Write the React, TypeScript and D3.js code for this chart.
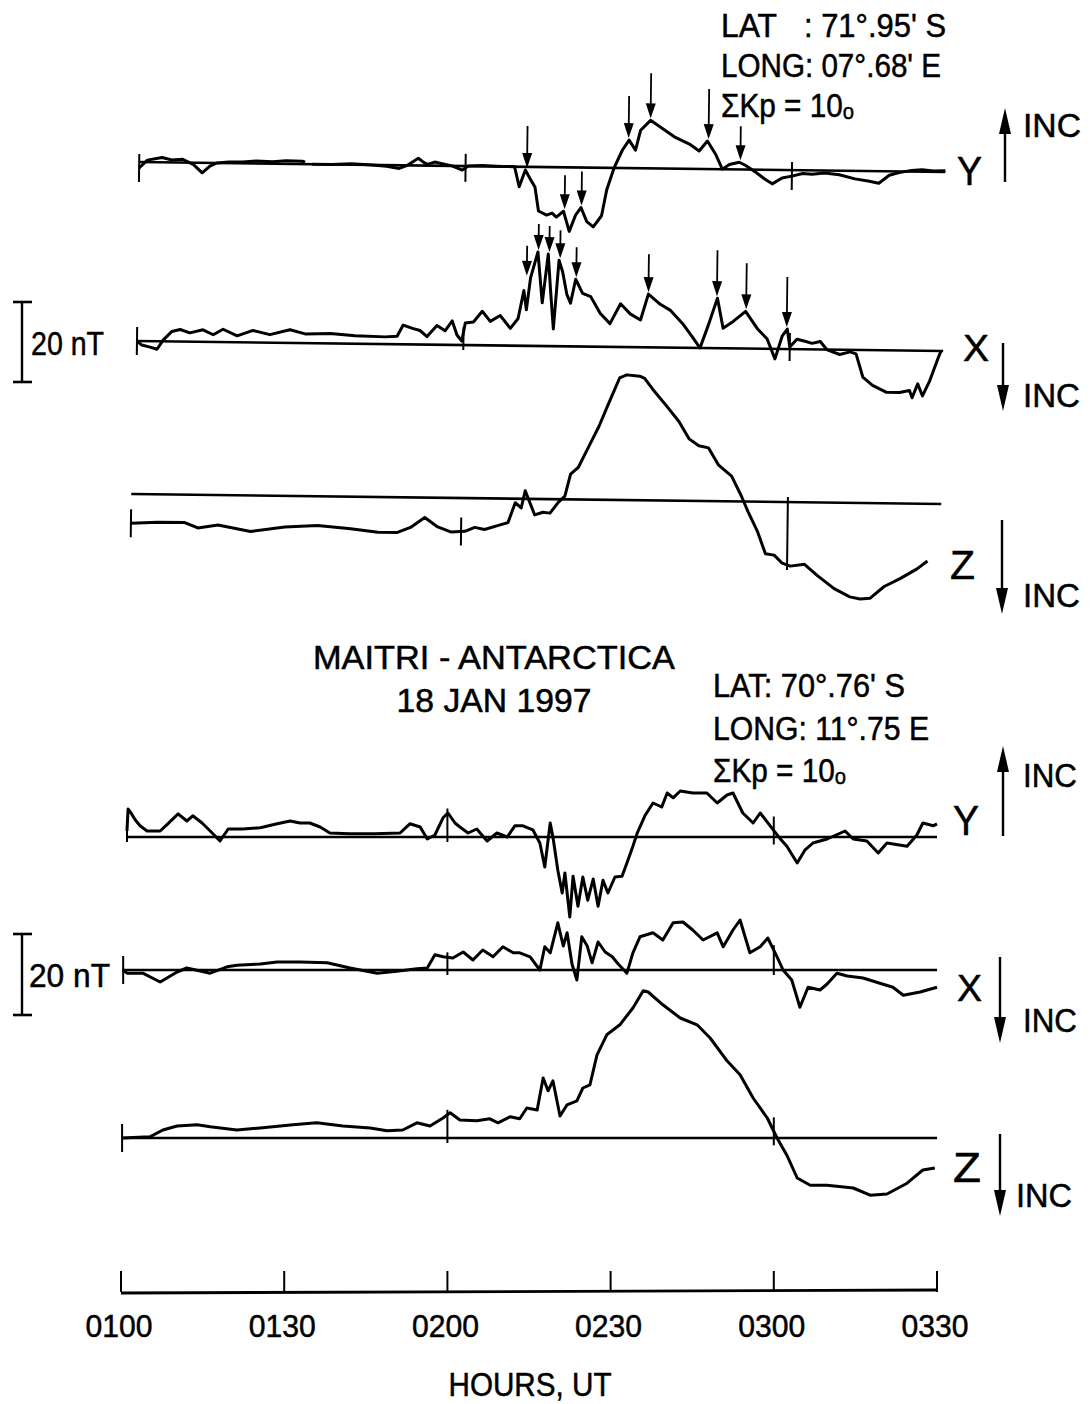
import React from "react";
import * as d3 from "d3";

// time in minutes after 0100 UT ; value = deflection in nT (positive = upward on the chart)
type Pt = [number, number | null];

// ---------- Upper station (LAT 71.95 S) ----------
const topY: Pt[] = [
  [0, -1.5], [1.5, 0.5], [4.2, 1.2], [6, 0.6], [8, 0.8], [10, -0.5], [11.6, -2.5], [13, -0.8], [14.3, 0],
  [16.5, 0.3], [19, 0.3], [21.5, 0.6], [24.5, 0.5], [27, 0.8], [30, 0.7], [30.5, 0.5], [31.1, null],
  [31.8, 0], [35.5, 0], [39, 0.2], [42.8, 0], [45.5, -0.3], [47.8, -0.8], [49.3, 0], [51.3, 1.8],
  [52.3, 0.8], [53, 0.3], [54.3, 0.9], [55.7, 0.5], [57.5, 0], [59.4, -1], [60.5, 0], [63, 0.2],
  [66.7, 0], [69, 0], [69.9, -5], [71, -0.8], [71.9, -3], [72.8, -5], [73.5, -11], [75, -12],
  [76, -11.5], [76.8, -12.5], [78.1, -11], [79.2, -16], [80.3, -12], [81.3, -10], [82.4, -13.5],
  [83.6, -14.8], [85.1, -12], [86, -5.5], [87.3, 0], [88.8, 4.5], [90, 7], [91.2, 4.5], [92.1, 9.5],
  [93.9, 12], [96.1, 10], [98.5, 7.8], [101.1, 6.2], [102.9, 4.5], [104.4, 7], [105.9, 3.8],
  [107.2, 0], [108.5, 1.2], [110.3, 1.8], [111.5, 1], [113.2, -0.5], [115, -2.3], [116.4, -3.5],
  [118.2, -2], [120, -1.5], [122, -0.8], [123.7, -1], [126, -0.6], [128.7, -1], [131.6, -2],
  [134, -2.5], [136, -3], [137.9, -1], [139.7, -0.3], [142, 0.3], [143.9, 0.5], [146, 0.2], [148.2, 0.3],
];

const topX: Pt[] = [
  [0, 0], [0.9, -1], [2.4, -1.5], [3.7, -2], [4.8, 0.3], [6.4, 2.5], [7.9, 3], [9.7, 2.2], [12.1, 3],
  [14, 1.8], [15.8, 3.2], [18.4, 1.6], [21.3, 3], [24.4, 2], [28.1, 3.3], [30.9, 2.3], [35.5, 2.5],
  [40.1, 2], [45.6, 1.8], [47.8, 2], [48.9, 4.8], [50.6, 4], [52, 3.5], [53.3, 2], [55.1, 4.8],
  [56.6, 3.5], [57.9, 6], [58.8, 2.5], [59.7, 1], [60.3, 5.5], [61.8, 5.8], [63.4, 8.5], [64.9, 6],
  [66.7, 7.5], [68.6, 4.3], [70, 6.8], [71, 13.8], [71.5, 9], [72.2, 17], [73.5, 23.5], [74.4, 10.8],
  [75.4, 23], [75.9, 14], [76.5, 4.3], [77.4, 21.5], [78.1, 18.5], [78.9, 13], [79.6, 10.8],
  [80.5, 16.8], [81.8, 13.3], [83.3, 12.5], [85.1, 8.3], [86.9, 5.8], [88.8, 10.8], [90.6, 8.3],
  [92.5, 6.8], [93.9, 13.3], [96.1, 10.8], [98, 9.3], [100.4, 5.8], [102.2, 2.5], [103.5, 0],
  [105, 5.8], [106.6, 12.5], [107.7, 5], [109.6, 6.8], [111.8, 9.3], [114, 5], [115.8, 2.5],
  [117.3, -2.5], [118.6, 3.3], [119.5, 5], [120, 0.5], [121.3, 2.5], [122.8, 2], [124.1, 1.5],
  [125.6, 2], [126.8, 0], [129.2, -1.2], [131.1, -0.5], [132.2, -1], [133.5, -6.8], [135.3, -8.8],
  [137.9, -10.5], [140.3, -10.5], [142.1, -10], [142.6, -11.8], [143.6, -8.3], [144.5, -11.3],
  [145.8, -7.5], [147.1, -2.5], [147.8, 0],
];

const topZ: Pt[] = [
  [-0.7, -7.3], [4.2, -7], [9.2, -7], [11.6, -8.3], [15.3, -7.5], [21.3, -9], [27.6, -7.8], [33.6, -7.3],
  [39.7, -8], [44.7, -8.8], [48.3, -8.8], [50.7, -7.5], [53.3, -5], [55.7, -7.3], [58.1, -8.5],
  [60.7, -8.3], [62.5, -7.3], [64.3, -7.8], [66.7, -6.8], [68.6, -6], [69.9, -1], [71, -2.3],
  [71.7, 2], [72.6, -1], [73.5, -4], [75, -3.3], [76.3, -3.5], [77.8, -0.8], [79, 0.8], [80, 6.3],
  [81.4, 8], [83.3, 13.3], [85.1, 18.3], [86.9, 24.3], [88.8, 30.5], [90.1, 31.3], [92.5, 31],
  [93.4, 30.5], [94.9, 27.8], [97.4, 23.8], [99.8, 19.8], [101.7, 15.5], [103.5, 13.8], [105.3, 13.3],
  [107.2, 9], [109.6, 6.3], [111.4, 1.5], [112.7, -2.5], [114.5, -7.5], [116, -13], [117.6, -13.3],
  [119.1, -15.3], [120.6, -16], [123.2, -15.5], [125.6, -18.3], [128.7, -21.5], [131.6, -23.5],
  [133.5, -24], [135.3, -23.8], [137.9, -20.8], [140.8, -18.8], [143.9, -16.3], [145.8, -14.3],
];

// arrow markers: [time, shaft length]
const topYArrows: [number, number][] = [
  [71.3, 42], [78.3, 34], [81.4, 34], [89.9, 42], [93.9, 45], [104.6, 50], [110.5, 34],
];
const topXArrows: [number, number][] = [
  [71.5, 30], [73.6, 26], [75.6, 26], [77.6, 28], [80.6, 30], [93.9, 38], [106.5, 46], [111.9, 46], [119.4, 50],
];

// ---------- Lower station (LAT 70.76 S) ----------
const botY: Pt[] = [
  [1.1, 1.5], [1.3, 7], [1.7, 6.3], [2.6, 4.3], [3.5, 2.8], [4.8, 1.5], [7.2, 1.5], [8.6, 3.3],
  [10.5, 5.8], [12.1, 4], [13.2, 5.3], [14.9, 3.5], [16.4, 1.5], [18.2, -1], [19.7, 2], [22.4, 2],
  [25.6, 2.3], [28.7, 3.3], [31.1, 4], [32.9, 3.5], [34.7, 3.5], [36.6, 2.5], [38.4, 1], [42.1, 0.8],
  [46.7, 0.8], [51.3, 1], [53.1, 3.3], [55, 2.5], [56.3, -0.5], [57.7, 0.5], [59.2, 4.8], [60.1, 6],
  [61.4, 3.5], [62.3, 2.5], [63.8, 1], [65.4, 2], [67.3, -1], [69.1, 1], [71, 0], [72.4, 2.8],
  [73.9, 2.8], [75.7, 1.8], [77, -1.5], [77.9, -7.5], [78.9, 3.5], [79.4, 0], [80.3, -8.3],
  [81.1, -14], [81.6, -9], [82.5, -20], [83.1, -9.8], [84, -17.3], [84.9, -10], [85.8, -15.8],
  [86.8, -10.5], [87.7, -17.3], [88.6, -10.8], [89.5, -14], [90.8, -10], [92.1, -9.8], [93, -6.5],
  [94.1, -2.3], [94.9, 1], [96.3, 5.3], [97.8, 8.5], [99.4, 7.5], [100.4, 11], [101.5, 9.8],
  [102.8, 11.5], [105.1, 11], [107.7, 11], [109.6, 8.5], [111.4, 10.5], [112.5, 11], [114.3, 6],
  [116.2, 3.5], [117.5, 6], [119.9, 1.8], [121.1, -0.3], [122.4, -2.3], [124.3, -6.5], [125.7, -3.3],
  [127.2, -1.5], [129.8, -0.5], [133.1, 1.5], [134.6, -0.5], [137.1, -1], [139.2, -4], [140.8, -1.5],
  [144.5, -2.3], [146.3, 0.5], [147.4, 3.5], [149.3, 2.8], [150, 3.3],
];

const botX: Pt[] = [
  [0.4, 0], [1.1, -0.8], [4, -0.8], [7.2, -3], [10.3, -0.5], [12.1, 0.5], [16.4, -0.8], [19.5, 0.8],
  [21.3, 1.2], [25.6, 1.5], [28.7, 2], [32.9, 2], [37.9, 1.8], [42.1, 0.5], [47.1, -0.8], [50.7, -0.3],
  [54.4, 0.3], [56.3, 0.5], [57.7, 3.8], [59.2, 3.3], [61, 3], [62.9, 4.5], [64.7, 2.5], [66.5, 5],
  [68.4, 3.3], [70.2, 5.8], [72.1, 4.3], [73.3, 4.3], [75.2, 3.3], [77, 0], [77.9, 5.8], [78.9, 4.3],
  [80.3, 11.8], [81.3, 6], [82, 9.3], [82.9, 1.5], [83.8, -2.5], [84.7, 8.3], [85.7, 6], [86.6, 1.8],
  [87.7, 7], [89, 4.5], [90.3, 3.3], [91.4, 1.5], [93, -0.8], [94.1, 4.3], [95.4, 8.3], [97.8, 9.3],
  [99.6, 7.5], [101.5, 11.8], [103.3, 12], [105.1, 10], [107, 7.5], [109.6, 9.3], [110.7, 5.8],
  [112.5, 10], [113.8, 12.5], [115.6, 4.3], [117.5, 5.8], [118.9, 8], [120.6, 3.3], [121.7, 0],
  [123.3, -2.5], [124.8, -9.3], [126.3, -4.3], [128.5, -5], [129.8, -3.5], [131.6, -0.8],
  [133.5, -1.5], [136.4, -2], [139.5, -3.3], [141.9, -4.3], [143.8, -6.3], [146.9, -5.5], [150, -4.3],
];

const botZ: Pt[] = [
  [0.2, 0], [5.3, 0.3], [7.7, 2], [10.3, 3], [14, 3.3], [16.4, 2.8], [21.3, 2], [25.6, 2.5],
  [31.6, 3.3], [36, 3.8], [40.8, 3], [45.8, 2.5], [48.9, 1.8], [51.8, 2], [54.4, 3.8], [56.8, 3],
  [59.2, 5], [60.5, 6.3], [62.3, 4.5], [65.4, 4.3], [67.8, 4.8], [69.3, 3.8], [71.5, 5.3], [73.3, 4.8],
  [74.6, 7.5], [76.5, 7], [77.6, 15], [78.5, 11.8], [79.4, 14.3], [80.7, 5.5], [82, 8.3], [83.8, 9.3],
  [84.9, 12.5], [86.2, 13.3], [87.5, 20.8], [89.3, 25.8], [91.7, 28.3], [94.1, 32.5], [96, 36.8],
  [96.9, 36.5], [99.6, 33.3], [102.8, 30], [105.9, 28.3], [108.3, 25], [111.4, 19.3], [113.8, 15.8],
  [116.2, 10], [118.8, 5], [120.6, 0], [122.4, -4.3], [124.3, -10], [126.7, -11.8], [129.8, -11.8],
  [134.6, -12.5], [137.7, -14.3], [140.8, -14], [144.5, -11.3], [147.4, -8], [149.6, -7.5],
];

const hourMarks = [0, 60, 120];
const axisTicks = [0, 30, 60, 90, 120, 150];
const axisLabels = ["0100", "0130", "0200", "0230", "0300", "0330"];

const FONT = "'Liberation Sans', Arial, Helvetica, sans-serif";
const PX_PER_NT = 4;

function valueAt(data: Pt[], t: number): number {
  const pts = data.filter((d) => d[1] != null) as [number, number][];
  for (let i = 0; i < pts.length - 1; i++) {
    if (t >= pts[i][0] && t <= pts[i + 1][0]) {
      const f = (t - pts[i][0]) / (pts[i + 1][0] - pts[i][0] || 1);
      return pts[i][1] + f * (pts[i + 1][1] - pts[i][1]);
    }
  }
  return t < pts[0][0] ? pts[0][1] : pts[pts.length - 1][1];
}

function localMax(data: Pt[], t: number, w = 0.8): number {
  let m = valueAt(data, t);
  data.forEach((d) => {
    if (d[1] != null && Math.abs(d[0] - t) <= w) m = Math.max(m, d[1]);
  });
  return m;
}

type TraceProps = {
  data: Pt[];
  x: d3.ScaleLinear<number, number>;
  base: number;
  t0: number;
  t1: number;
  arrows?: [number, number][];
  tickModes: string; // per hour mark: "a" = short mark around trace, "s" = mark spanning trace to baseline
};

function Trace({ data, x, base, t0, t1, arrows = [], tickModes }: TraceProps) {
  const y = d3.scaleLinear().domain([-40, 40]).range([base + 40 * PX_PER_NT, base - 40 * PX_PER_NT]);
  const line = d3
    .line<Pt>()
    .defined((d) => d[1] != null)
    .x((d) => x(d[0]))
    .y((d) => y(d[1] as number));
  const firstT = (data.find((d) => d[1] != null) as Pt)[0];
  return (
    <g>
      <line x1={x(t0)} x2={x(t1)} y1={y(0)} y2={y(0)} stroke="#000" strokeWidth={2.6} />
      <path d={line(data) || ""} fill="none" stroke="#000" strokeWidth={3} strokeLinejoin="round" />
      {hourMarks.map((h, i) => {
        const tt = h === 0 ? firstT : h;
        const ty = y(valueAt(data, tt));
        const mode = tickModes[i];
        const y1 = mode === "a" ? ty - 14 : Math.min(ty, y(0)) - 5;
        const y2 = mode === "a" ? ty + 14 : Math.max(ty, y(0)) + 5;
        return <line key={h} x1={x(tt)} x2={x(tt)} y1={y1} y2={y2} stroke="#000" strokeWidth={2} />;
      })}
      {arrows.map(([a, len], i) => {
        const tip = y(localMax(data, a)) - 2;
        const ax = x(a);
        return (
          <g key={i}>
            <line x1={ax} x2={ax} y1={tip - len} y2={tip - 10} stroke="#000" strokeWidth={1.8} />
            <path d={`M${ax - 5},${tip - 15} L${ax + 5},${tip - 15} L${ax},${tip} Z`} fill="#000" />
          </g>
        );
      })}
    </g>
  );
}

function IncArrow({ x, yFrom, yTo }: { x: number; yFrom: number; yTo: number }) {
  const dir = yTo > yFrom ? 1 : -1;
  return (
    <g>
      <line x1={x} x2={x} y1={yFrom} y2={yTo - dir * 10} stroke="#000" strokeWidth={2.4} />
      <path d={`M${x - 6},${yTo - dir * 26} L${x + 6},${yTo - dir * 26} L${x},${yTo} Z`} fill="#000" />
    </g>
  );
}

function Txt({
  x, y, children, len, size = 33, anchor = "start",
}: { x: number; y: number; children: React.ReactNode; len?: number; size?: number; anchor?: string }) {
  return (
    <text
      x={x}
      y={y}
      fontFamily={FONT}
      fontSize={size}
      textAnchor={anchor as any}
      textLength={len}
      lengthAdjust={len ? "spacingAndGlyphs" : undefined}
      fill="#000"
      stroke="#000"
      strokeWidth={0.5}
      style={{ whiteSpace: "pre" }}
    >
      {children}
    </text>
  );
}

function ScaleBar({ top, bottom, labelY, labelX, labelLen }: { top: number; bottom: number; labelY: number; labelX: number; labelLen: number }) {
  return (
    <g>
      <line x1={22} x2={22} y1={top} y2={bottom} stroke="#000" strokeWidth={2.4} />
      <line x1={13} x2={32} y1={top} y2={top} stroke="#000" strokeWidth={2.6} />
      <line x1={13} x2={32} y1={bottom} y2={bottom} stroke="#000" strokeWidth={2.6} />
      <Txt x={labelX} y={labelY} len={labelLen} size={33}>20 nT</Txt>
    </g>
  );
}

function KpText({ x, y }: { x: number; y: number }) {
  return (
    <Txt x={x} y={y} len={133}>ΣKp = 10ₒ</Txt>
  );
}

export default function App() {
  const W = 1091;
  const H = 1404;
  const xTop = d3.scaleLinear().domain([0, 150]).range([137, 953]);
  const xBot = d3.scaleLinear().domain([0, 150]).range([121, 937]);
  const axisY = 1293;

  return (
    <svg
      width={W}
      height={H}
      viewBox={`0 0 ${W} ${H}`}
      style={{ position: "absolute", left: 0, top: 0, background: "#fff" }}
    >
      <rect x={0} y={0} width={W} height={H} fill="#fff" />

      {/* Upper station */}
      <g transform="rotate(0.71 137 340)">
        <Trace data={topY} x={xTop} base={162} t0={0} t1={148.2} arrows={topYArrows} tickModes="aaa" />
        <Trace data={topX} x={xTop} base={341} t0={0} t1={148.2} arrows={topXArrows} tickModes="asa" />
        <Trace data={topZ} x={xTop} base={494} t0={-0.7} t1={148.2} tickModes="aas" />
      </g>

      <Txt x={721} y={37} len={56}>LAT</Txt>
      <Txt x={804} y={37} len={142}>: 71°.95' S</Txt>
      <Txt x={721} y={77} len={220}>LONG: 07°.68' E</Txt>
      <KpText x={721} y={117} />

      <Txt x={957} y={185} size={40} len={25}>Y</Txt>
      <IncArrow x={1005} yFrom={182} yTo={108} />
      <Txt x={1023} y={137} len={58}>INC</Txt>

      <Txt x={963} y={361} size={36} len={26}>X</Txt>
      <IncArrow x={1003} yFrom={343} yTo={411} />
      <Txt x={1023} y={407} len={57}>INC</Txt>

      <Txt x={950} y={579} size={40} len={25}>Z</Txt>
      <IncArrow x={1002} yFrom={520} yTo={614} />
      <Txt x={1023} y={607} len={57}>INC</Txt>

      <ScaleBar top={302} bottom={382} labelX={31} labelY={355} labelLen={73} />

      {/* Titles */}
      <Txt x={494} y={669} anchor="middle" len={362}>MAITRI - ANTARCTICA</Txt>
      <Txt x={494} y={712} anchor="middle" len={195}>18 JAN 1997</Txt>

      {/* Lower station */}
      <Txt x={713} y={697} len={192}>LAT: 70°.76' S</Txt>
      <Txt x={713} y={740} len={216}>LONG: 11°.75 E</Txt>
      <KpText x={713} y={782} />

      <Trace data={botY} x={xBot} base={837} t0={1.1} t1={150} tickModes="ssa" />
      <Trace data={botX} x={xBot} base={970} t0={0.2} t1={150} tickModes="ass" />
      <Trace data={botZ} x={xBot} base={1138} t0={0.2} t1={150} tickModes="asa" />

      <Txt x={953} y={835} size={42} len={26}>Y</Txt>
      <IncArrow x={1003} yFrom={836} yTo={746} />
      <Txt x={1023} y={787} len={54}>INC</Txt>

      <Txt x={957} y={1001} size={36} len={25}>X</Txt>
      <IncArrow x={1000} yFrom={957} yTo={1043} />
      <Txt x={1023} y={1032} len={54}>INC</Txt>

      <Txt x={953} y={1182} size={42} len={28}>Z</Txt>
      <IncArrow x={1000} yFrom={1134} yTo={1216} />
      <Txt x={1016} y={1207} len={56}>INC</Txt>

      <ScaleBar top={934} bottom={1015} labelX={29} labelY={987} labelLen={81} />

      {/* Time axis */}
      <line x1={xBot(0)} x2={xBot(150)} y1={axisY} y2={axisY - 3} stroke="#000" strokeWidth={2.8} />
      {axisTicks.map((t, i) => (
        <g key={t}>
          <line x1={xBot(t)} x2={xBot(t)} y1={axisY - 1} y2={axisY - 22} stroke="#000" strokeWidth={2} />
          <Txt x={xBot(t) - 2} y={1337} anchor="middle" len={67} size={32}>
            {axisLabels[i]}
          </Txt>
        </g>
      ))}
      <Txt x={530} y={1396} anchor="middle" len={163} size={33}>HOURS, UT</Txt>
    </svg>
  );
}
